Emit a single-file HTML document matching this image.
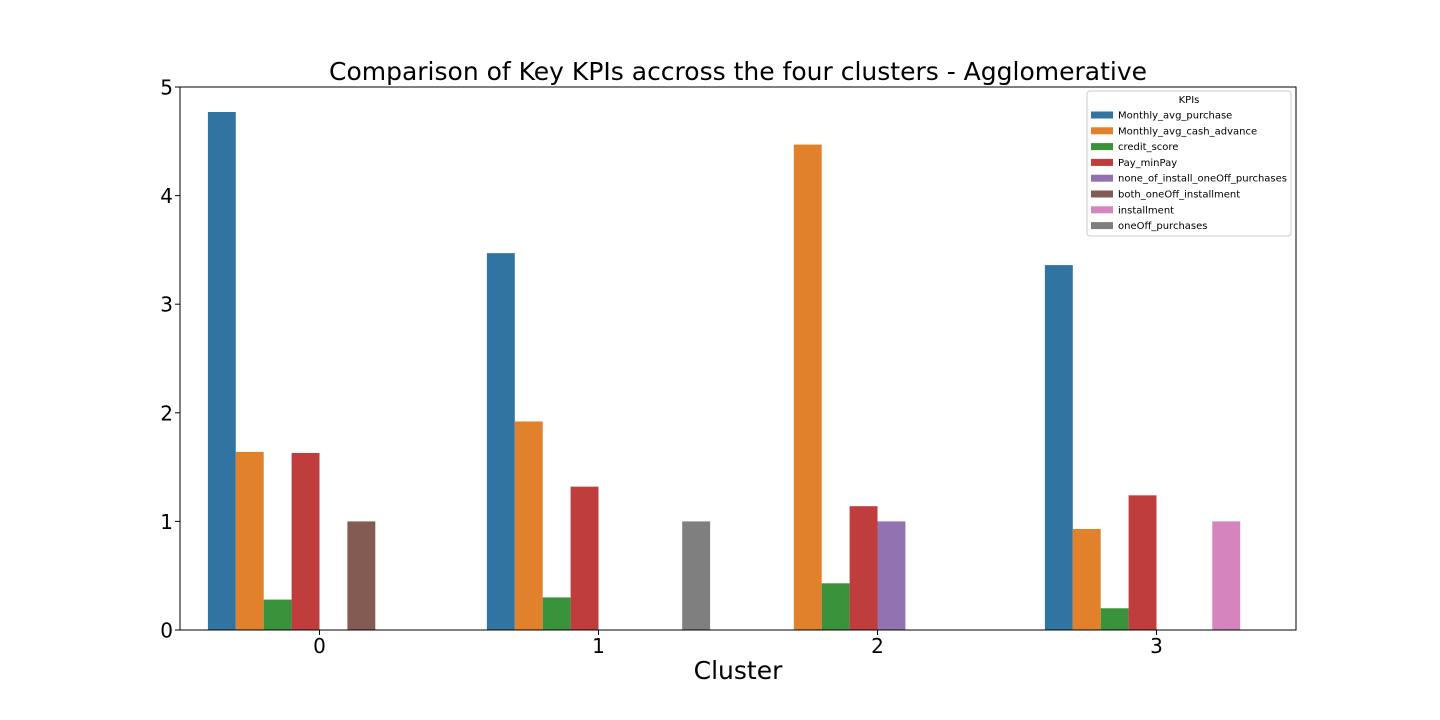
<!DOCTYPE html>
<html><head><meta charset="utf-8"><style>
html,body{margin:0;padding:0;background:#fff;}
svg{display:block;font-family:"DejaVu Sans","Liberation Sans",sans-serif;}
</style></head><body>
<svg id="chart" width="1440" height="720" viewBox="0 0 1440 720">
<text x="738" y="80" text-anchor="middle" font-size="25" fill="#000">Comparison of Key KPIs accross the four clusters - Agglomerative</text>
<text x="738" y="679" text-anchor="middle" font-size="25" fill="#000">Cluster</text>
<g id="plot"></g>
</svg>
<script>
const categories = ["0","1","2","3"];
const seriesNames = ["Monthly_avg_purchase","Monthly_avg_cash_advance","credit_score","Pay_minPay","none_of_install_oneOff_purchases","both_oneOff_installment","installment","oneOff_purchases"];
const colors = ["#3274a1","#e1812c","#3a923a","#c03d3e","#9372b2","#845b53","#d684bd","#7f7f7f"];
const monthlyAvgPurchase = [4.77, 3.47, 0, 3.36];
const monthlyAvgCashAdvance = [1.64, 1.92, 4.47, 0.93];
const creditScore = [0.28, 0.30, 0.43, 0.20];
const payMinPay = [1.63, 1.32, 1.14, 1.24];
const noneOfInstallOneOff = [0, 0, 1, 0];
const bothOneOffInstallment = [1, 0, 0, 0];
const installment = [0, 0, 0, 1];
const oneOffPurchases = [0, 1, 0, 0];
const yTicks = [0,1,2,3,4,5];
const series = [monthlyAvgPurchase, monthlyAvgCashAdvance, creditScore, payMinPay, noneOfInstallOneOff, bothOneOffInstallment, installment, oneOffPurchases];

const L=180, R=1296, T=87, B=630, yMax=5;
const ns="http://www.w3.org/2000/svg";
const g=document.getElementById('plot');
const step=(R-L)/categories.length;
const xCat=i=>L+step*(i+0.5);
const y=v=>B-(v/yMax)*(B-T);
const bw=step*0.8/series.length;
function mk(t,a){const e=document.createElementNS(ns,t);for(const k in a)e.setAttribute(k,a[k]);g.appendChild(e);return e;}

series.forEach((vals,s)=>{
  vals.forEach((v,i)=>{
    if(v<=0) return;
    const x=xCat(i)+(s-series.length/2)*bw;
    const r=mk('rect',{x:x,y:y(v),width:bw,height:y(0)-y(v),fill:colors[s]});
    
    
  });
});
const frame=mk('rect',{x:L,y:T,width:R-L,height:B-T,fill:'none',stroke:'#000','stroke-width':1});


yTicks.forEach(t=>{
  const ln=mk('line',{x1:L-5,x2:L,y1:y(t),y2:y(t),stroke:'#000'});
  
  
  const tx=mk('text',{x:L-7,y:y(t)+7.5,'text-anchor':'end','font-size':20});
  tx.textContent=t;
  
  
});
categories.forEach((c,i)=>{
  const ln=mk('line',{x1:xCat(i),x2:xCat(i),y1:B,y2:B+5,stroke:'#000'});
  
  
  const tx=mk('text',{x:xCat(i),y:B+23,'text-anchor':'middle','font-size':20});
  tx.textContent=c;
  
  
});
// legend
const lb=mk('rect',{x:1087,y:91,width:204,height:145,fill:'#fff',stroke:'#ccc',rx:3});


const lt=mk('text',{x:1189,y:103,'text-anchor':'middle','font-size':10});
lt.textContent='KPIs';


seriesNames.forEach((n,s)=>{
  const yy=115+s*15.8;
  const p=mk('rect',{x:1091,y:yy-3.5,width:22,height:7,fill:colors[s]});
  
  
  const t=mk('text',{x:1118,y:yy+3.5,'font-size':10});
  t.textContent=n;
  
  
});
</script>
</body></html>
